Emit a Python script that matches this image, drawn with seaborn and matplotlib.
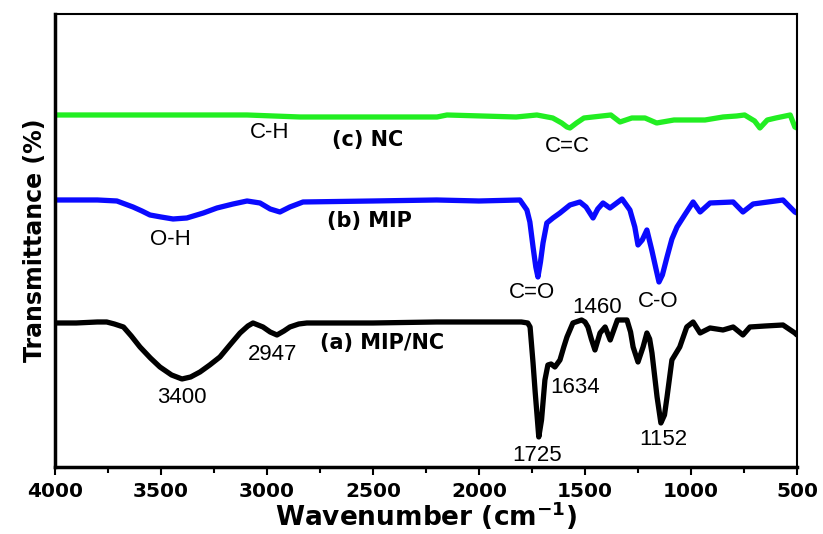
import matplotlib
matplotlib.use("Agg")
import matplotlib.pyplot as plt
import seaborn as sns
import pandas as pd
from matplotlib.ticker import MultipleLocator

# ---- data (transmittance in arbitrary offset units) ----
wn_a = [4000, 3900, 3800, 3756, 3720, 3677, 3640, 3599, 3550, 3505, 3450, 3401, 3360, 3316,
        3270, 3222, 3175, 3127, 3090, 3066, 3019, 2985, 2953, 2920, 2892, 2850, 2812, 2500,
        2200, 2000, 1800, 1770, 1759, 1745, 1735, 1727, 1718, 1705, 1689, 1675, 1660, 1642,
        1618, 1600, 1585, 1557, 1516, 1500, 1486, 1470, 1453, 1429, 1405, 1381, 1347, 1302,
        1285, 1273, 1250, 1226, 1208, 1195, 1184, 1160, 1142, 1125, 1113, 1090, 1053, 1020,
        990, 957, 910, 849, 801, 755, 722, 650, 566, 510, 500]
t_a = [144, 144, 145, 145, 143, 140, 131, 120, 109, 100, 92, 88, 90, 95,
       102, 110, 122, 134, 141, 144, 140, 135, 132, 136, 140, 143, 144, 144,
       145, 145, 145, 144, 140, 104, 75, 54, 30, 47, 87, 102, 103, 100,
       107, 120, 130, 144, 147, 145, 140, 128, 117, 134, 140, 127, 147, 147,
       135, 120, 105, 120, 134, 128, 114, 70, 44, 52, 70, 107, 120, 140,
       145, 134, 139, 137, 140, 132, 140, 141, 142, 134, 132]

wn_b = [4000, 3800, 3708, 3670, 3632, 3590, 3552, 3500, 3443, 3378, 3300, 3236, 3160, 3094,
        3033, 2985, 2939, 2892, 2830, 2500, 2200, 2000, 1807, 1774, 1760, 1745, 1732, 1722,
        1710, 1698, 1680, 1651, 1618, 1571, 1524, 1495, 1462, 1440, 1415, 1382, 1325, 1288,
        1265, 1250, 1230, 1208, 1185, 1165, 1151, 1135, 1113, 1090, 1066, 1030, 990, 957,
        910, 801, 755, 707, 566, 510, 500]
t_b = [267, 267, 266, 263, 260, 256, 252, 250, 248, 249, 254, 259, 263, 266,
       264, 258, 255, 260, 265, 266, 267, 266, 267, 257, 245, 220, 200, 190,
       205, 224, 244, 249, 254, 262, 265, 260, 249, 258, 264, 259, 268, 257,
       240, 222, 227, 237, 217, 198, 185, 192, 210, 228, 240, 252, 265, 255,
       264, 265, 255, 263, 267, 255, 254]

wn_c = [4000, 3094, 2844, 2646, 2198, 2151, 1825, 1727, 1652, 1610, 1585, 1571, 1540, 1505,
        1378, 1335, 1279, 1217, 1162, 1080, 934, 849, 785, 747, 700, 675, 640, 600, 532, 510,
        500]
t_c = [352, 352, 350, 350, 350, 352, 350, 352, 349, 344, 340, 339, 344, 349,
       352, 345, 349, 349, 344, 347, 347, 350, 351, 352, 346, 339, 347, 349, 352, 340,
       339]

x_ticks = [4000, 3500, 3000, 2500, 2000, 1500, 1000, 500]
x_ticklabels = ["4000", "3500", "3000", "2500", "2000", "1500", "1000", "500"]

series_labels = ["(a) MIP/NC", "(b) MIP", "(c) NC"]
series_label_pos = [(2458, 124), (2519, 246), (2524, 327)]

peak_labels = ["3400", "2947", "1634", "1460", "1725", "1152",
               "O-H", "C=O", "C-O", "C-H", "C=C"]
peak_label_pos = [(3401, 69), (2972, 112), (1547, 79), (1443, 159), (1727, 11), (1132, 27),
                  (3458, 227), (1750, 174), (1156, 165), (2986, 334), (1585, 320)]

df = pd.concat([
    pd.DataFrame({"wn": wn_a, "T": t_a, "s": "a"}),
    pd.DataFrame({"wn": wn_b, "T": t_b, "s": "b"}),
    pd.DataFrame({"wn": wn_c, "T": t_c, "s": "c"}),
], ignore_index=True)

sns.set_style("ticks")
plt.rcParams["font.family"] = ["DejaVu Sans"]
plt.rcParams["text.color"] = "black"
plt.rcParams["axes.labelcolor"] = "black"
plt.rcParams["xtick.color"] = "black"
plt.rcParams["axes.edgecolor"] = "black"

fig = plt.figure(figsize=(8.23, 5.34), dpi=100)
ax = fig.add_axes([0.0668, 0.1255, 0.9016, 0.8483])

palette = {"a": "#000000", "b": "#0a0aff", "c": "#22ee22"}
sns.lineplot(data=df, x="wn", y="T", hue="s", palette=palette, sort=False,
             estimator=None, linewidth=3.8, legend=False, ax=ax)

ax.set_xlim(4000, 500)
ax.set_ylim(0, 453)
ax.set_xticks(x_ticks)
ax.set_xticklabels(x_ticklabels, fontsize=14.5, fontweight="bold")
ax.xaxis.set_minor_locator(MultipleLocator(250))
ax.set_yticks([])
ax.tick_params(axis="x", which="major", direction="out", length=6, width=1.5, pad=5)
ax.tick_params(axis="x", which="minor", direction="out", length=4, width=1.5)

ax.set_xlabel("Wavenumber (cm$^{\\mathbf{-1}}$)", fontsize=19, fontweight="bold", labelpad=-1)
ax.set_ylabel("Transmittance (%)", fontsize=17, fontweight="bold", labelpad=6)

for sp in ["left", "bottom"]:
    ax.spines[sp].set_linewidth(2.5)
for sp in ["top", "right"]:
    ax.spines[sp].set_linewidth(1.5)

for lab, (x, y) in zip(series_labels, series_label_pos):
    ax.text(x, y, lab, fontsize=15, fontweight="bold", ha="center", va="center")

for lab, (x, y) in zip(peak_labels, peak_label_pos):
    ax.text(x, y, lab, fontsize=16, family=["Liberation Sans", "DejaVu Sans"],
            ha="center", va="center")

fig.savefig("out.png", dpi=100)
